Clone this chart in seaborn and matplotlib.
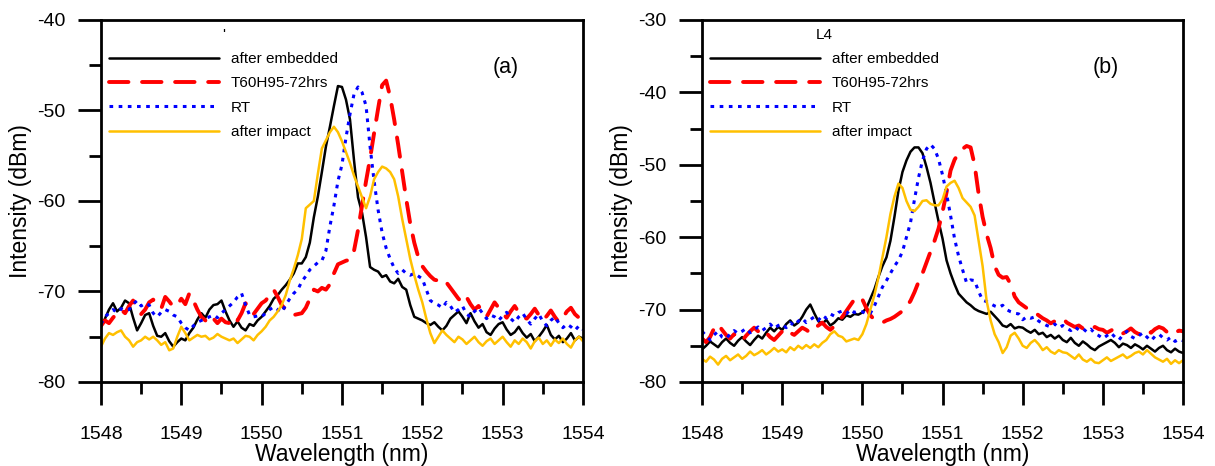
import matplotlib
matplotlib.use("Agg")
import matplotlib.pyplot as plt
import numpy as np
import seaborn as sns

sns.set_style("ticks", {"axes.edgecolor": "black", "xtick.color": "black",
                        "ytick.color": "black", "text.color": "black",
                        "axes.labelcolor": "black"})
plt.rcParams['font.family'] = ['Liberation Sans', 'DejaVu Sans']
plt.rcParams['axes.unicode_minus'] = False

# shared wavelength grid (nm), 0.05 nm step
wavelength = np.round(np.arange(1548.0, 1554.001, 0.05), 2)

labels = ["after embedded", "T60H95-72hrs", "RT", "after impact"]

# ---- panel (a) ----
emb_a = [-73.9, -73.0, -72.0, -71.3, -72.2, -71.8, -71.0, -71.3, -72.9, -74.3, -73.5, -72.6, -72.4, -73.8, -74.9, -75.0, -74.6, -75.5, -76.1, -75.6,
         -75.2, -75.4, -74.6, -74.0, -73.1, -72.4, -72.9, -72.0, -71.5, -71.4, -71.0, -72.2, -73.2, -73.9, -73.3, -74.0, -74.3, -73.6, -73.8, -73.2,
         -72.8, -72.2, -71.6, -70.8, -70.4, -69.8, -69.3, -68.7, -68.0, -66.9, -66.9, -66.2, -64.6, -61.8, -59.5, -56.8, -54.0, -51.8, -49.5, -47.3,
         -47.4, -48.8, -51.0, -55.5, -59.6, -61.3, -64.0, -67.3, -67.6, -67.8, -68.4, -68.2, -68.9, -69.1, -68.6, -69.5, -69.8, -71.5, -72.8, -73.0,
         -73.2, -73.5, -73.7, -73.4, -73.9, -74.3, -73.8, -73.0, -72.6, -72.2, -72.8, -73.5, -72.4, -73.3, -74.0, -73.6, -74.5, -74.8, -74.1, -73.6,
         -73.4, -74.2, -74.8, -74.5, -73.9, -74.6, -75.1, -74.7, -75.5, -75.0, -74.4, -73.7, -74.8, -75.3, -74.9, -75.6, -75.2, -74.6, -75.4, -75.0,
         -75.2]
t60_a = [-73.8, -73.2, -73.5, -72.9, -72.4, -72.0, -72.4, -71.6, -71.0, -71.8, -72.5, -72.0, -71.2, -70.9, -71.5, -71.9, -70.6, -71.1, -71.7, -71.5,
         -70.8, -71.4, -70.2, -71.0, -72.0, -72.8, -73.2, -72.6, -73.0, -73.5, -73.0, -73.4, -73.5, -72.8, -73.2, -72.4, -71.3, -71.8, -72.5, -71.9,
         -71.3, -71.0, -70.4, -69.8, -70.6, -71.5, -72.0, -72.4, -72.6, -72.5, -72.4, -71.8, -70.8, -69.8, -70.0, -69.6, -69.8, -69.2, -68.0, -67.0,
         -66.8, -66.6, -66.5, -65.5, -63.2, -60.5, -57.8, -55.3, -52.5, -49.8, -47.2, -46.7, -48.5, -51.0, -53.8, -56.8, -59.8, -62.5, -64.6, -66.2,
         -67.2, -67.8, -68.3, -68.7, -68.8, -68.6, -69.0, -69.6, -70.2, -70.8, -71.2, -70.6, -71.4, -72.0, -71.6, -72.3, -72.8, -72.0, -71.2, -71.8,
         -72.4, -72.9, -72.2, -71.6, -72.3, -72.8, -73.0, -72.5, -71.9, -72.6, -73.2, -72.7, -72.1, -72.8, -73.4, -72.9, -72.2, -71.8, -72.5, -72.9,
         -72.6]
rt_a = [-73.6, -72.8, -72.4, -72.0, -72.3, -71.9, -72.1, -72.0, -71.4, -71.0, -71.6, -71.3, -71.5, -72.4, -72.8, -72.3, -72.0, -72.2, -72.6, -72.8,
        -73.5, -74.0, -74.3, -73.8, -73.4, -73.2, -73.0, -72.8, -72.6, -72.9, -72.4, -72.0, -71.6, -71.2, -70.6, -70.2, -71.5, -72.6, -72.8, -72.7,
        -72.8, -72.4, -72.0, -71.7, -72.0, -72.3, -71.5, -70.8, -70.2, -69.8, -68.9, -68.3, -67.6, -67.2, -66.8, -66.6, -65.5, -62.8, -60.5, -57.8,
        -56.0, -53.0, -50.4, -48.2, -47.4, -48.0, -49.5, -54.0, -57.8, -61.0, -63.5, -65.2, -66.4, -67.4, -68.0, -67.6, -68.0, -68.2, -68.0, -68.3,
        -68.6, -69.8, -71.0, -71.3, -71.5, -71.8, -71.2, -71.6, -72.3, -72.0, -71.6, -72.5, -72.8, -72.2, -71.8, -72.4, -73.0, -72.6, -72.8, -73.2,
        -72.7, -72.3, -73.0, -73.4, -72.8, -72.4, -73.1, -73.6, -73.0, -72.5, -73.3, -73.8, -73.2, -72.8, -73.5, -74.0, -73.6, -73.9, -74.3, -73.8,
        -74.2]
imp_a = [-76.1, -75.2, -74.6, -74.8, -74.5, -74.3, -75.0, -75.4, -76.1, -75.6, -75.4, -75.0, -75.3, -75.0, -75.4, -75.9, -75.6, -76.5, -76.3, -75.0,
         -73.9, -74.6, -75.4, -75.1, -74.8, -75.0, -74.9, -75.3, -75.1, -74.7, -75.0, -75.2, -75.4, -75.2, -75.7, -75.3, -74.9, -75.0, -75.4, -74.8,
         -74.4, -73.9, -73.2, -72.8, -72.2, -71.5, -70.4, -68.8, -67.5, -66.0, -64.2, -60.8, -60.4, -60.0, -57.0, -54.2, -53.3, -52.4, -51.8, -52.4,
         -53.4, -54.6, -55.8, -57.2, -58.4, -59.6, -60.8, -59.5, -57.6, -56.8, -56.2, -56.4, -56.8, -57.6, -59.5, -62.0, -64.2, -66.4, -68.2, -69.8,
         -71.2, -73.0, -74.6, -75.7, -75.0, -74.3, -74.8, -75.2, -75.6, -75.0, -75.3, -75.8, -75.4, -75.0, -75.6, -76.0, -75.5, -75.2, -75.8, -75.4,
         -75.0, -75.6, -76.1, -75.4, -75.8, -75.2, -75.6, -76.3, -75.5, -75.1, -75.8, -75.4, -76.0, -75.3, -75.7, -75.2, -75.8, -76.2, -75.4, -75.0,
         -75.5]

# ---- panel (b) ----
emb_b = [-75.5, -75.0, -74.4, -74.8, -75.2, -74.5, -74.0, -74.6, -75.0, -74.3, -73.8, -74.4, -74.9, -74.2, -73.6, -74.0, -73.2, -72.5, -73.0, -72.4,
         -72.8, -72.0, -71.5, -72.2, -71.8, -71.0, -70.0, -69.3, -70.5, -71.6, -72.0, -71.4, -72.2, -71.8, -71.2, -71.4, -70.8, -71.0, -70.6, -70.7,
         -70.4, -69.8, -68.5, -67.2, -65.5, -64.0, -62.8, -60.5, -57.2, -53.6, -51.0, -49.4, -48.2, -47.6, -47.6, -48.4, -50.3, -52.5, -55.2, -57.8,
         -60.2, -63.2, -65.0, -66.5, -67.8, -68.4, -69.0, -69.4, -69.9, -70.2, -70.4, -70.6, -70.3, -70.9, -71.5, -72.2, -72.4, -72.0, -72.6, -72.4,
         -72.5, -72.9, -73.2, -72.8, -73.4, -73.2, -73.8, -73.5, -74.0, -73.6, -74.2, -74.5, -73.9, -74.6, -75.0, -74.4, -74.8, -75.3, -75.6, -75.1,
         -74.8, -74.5, -74.2, -74.6, -75.2, -74.7, -74.9, -75.3, -74.8, -75.1, -75.5, -75.0, -75.4, -75.8, -75.3, -75.0, -75.6, -75.9, -75.4, -75.8,
         -76.0]
t60_b = [-74.0, -74.5, -73.8, -72.6, -72.0, -72.8, -73.5, -74.0, -73.4, -73.8, -74.3, -73.6, -73.0, -72.5, -73.0, -73.6, -73.2, -73.8, -74.2, -73.6,
         -73.0, -72.6, -73.2, -73.5, -73.0, -72.5, -72.8, -73.2, -72.6, -72.2, -71.8, -72.4, -72.8, -72.3, -71.6, -71.0, -70.2, -69.4, -68.6, -68.2,
         -68.6, -69.8, -70.8, -71.4, -71.6, -71.8, -71.5, -71.3, -71.0, -70.6, -70.2, -69.6, -68.8, -67.6, -66.2, -65.0, -63.5, -62.0, -60.5, -58.8,
         -56.5, -53.8, -50.8, -49.3, -48.4, -47.8, -47.4, -47.6, -50.0, -54.0, -57.2, -59.6, -61.5, -64.0, -65.2, -65.6, -65.5, -66.5, -68.2, -69.0,
         -69.4, -69.8, -70.0, -70.4, -70.8, -71.2, -71.5, -71.9, -71.6, -71.4, -71.2, -71.8, -72.1, -72.4, -72.2, -72.6, -72.5, -72.8, -72.4, -72.7,
         -72.8, -73.2, -72.9, -72.6, -72.8, -73.3, -73.0, -72.6, -73.1, -73.4, -72.9, -72.8, -73.2, -72.7, -72.4, -72.6, -73.1, -73.5, -73.2, -72.9,
         -73.0]
rt_b = [-73.0, -73.6, -74.2, -73.5, -73.0, -73.8, -74.0, -73.4, -72.9, -73.3, -73.0, -72.6, -73.2, -72.8, -72.4, -72.9, -72.5, -72.0, -72.6, -72.2,
        -72.0, -72.5, -71.8, -72.2, -71.6, -71.2, -71.8, -71.4, -71.0, -71.5, -70.8, -71.2, -70.6, -70.9, -70.4, -70.2, -70.6, -70.0, -70.4, -70.2,
        -70.3, -70.6, -70.5, -69.5, -68.2, -66.9, -66.0, -65.0, -64.0, -63.2, -62.0, -60.0, -58.0, -54.8, -51.8, -49.4, -47.8, -47.2, -47.8, -49.2,
        -51.4, -54.0, -57.0, -60.2, -62.6, -64.5, -66.3, -65.9, -66.0, -67.5, -68.7, -68.9, -69.2, -69.5, -69.7, -69.4, -70.0, -70.3, -70.5, -70.6,
        -71.4, -71.0, -71.2, -71.0, -71.6, -71.9, -72.2, -72.4, -72.0, -72.5, -72.2, -72.6, -72.9, -72.4, -72.8, -72.6, -73.1, -72.7, -73.3, -73.6,
        -74.0, -73.6, -73.2, -73.8, -74.2, -73.5, -73.0, -73.7, -74.0, -73.6, -73.2, -73.8, -74.3, -73.7, -73.4, -73.9, -74.2, -73.8, -74.4, -74.1,
        -74.3]
imp_b = [-76.8, -77.2, -76.5, -76.9, -77.6, -76.8, -76.4, -77.0, -76.6, -76.2, -76.8, -76.4, -75.8, -76.3, -76.0, -75.6, -76.2, -75.8, -75.3, -75.8,
         -75.5, -75.9, -75.2, -75.6, -75.0, -75.4, -74.9, -75.3, -74.8, -75.2, -74.6, -74.2, -73.4, -73.0, -73.6, -73.8, -74.4, -74.2, -74.0, -74.2,
         -73.4, -72.0, -70.0, -68.0, -65.6, -62.8, -60.0, -56.8, -54.4, -52.6, -53.2, -55.0, -56.2, -56.4, -55.8, -55.0, -54.9, -55.4, -55.6, -55.6,
         -54.8, -53.0, -52.5, -52.2, -53.2, -54.6, -55.2, -55.8, -57.0, -60.5, -64.0, -68.8, -71.5, -73.4, -74.5, -76.0, -75.2, -73.6, -73.2, -74.0,
         -75.0, -75.3, -74.6, -74.2, -74.8, -75.6, -75.2, -75.8, -76.1, -75.6, -75.9, -76.0, -76.4, -76.8, -76.2, -76.9, -77.2, -76.8, -77.3, -77.4,
         -77.0, -76.6, -77.1, -76.8, -76.5, -76.2, -76.7, -76.4, -76.0, -75.8, -76.2, -75.6, -76.1, -76.6, -76.9, -77.2, -76.8, -77.5, -77.0, -77.4,
         -77.0]

colors = ["black", "#FF0000", "#0000FF", "#FFC000"]
widths = [1.8, 2.8, 2.2, 1.8]
dash_patterns = [None, (5, 3.5), (1.2, 1.8), None]

fig = plt.figure(figsize=(12.15, 4.66), dpi=100)
ax_a = fig.add_axes([0.0831, 0.1803, 0.3967, 0.7768])
ax_b = fig.add_axes([0.5778, 0.1803, 0.3959, 0.7768])

panels = [
    (ax_a, [emb_a, t60_a, rt_a, imp_a], (-80, -40), "(a)", "'"),
    (ax_b, [emb_b, t60_b, rt_b, imp_b], (-80, -30), "(b)", "L4"),
]

for ax, series, ylim, tag, title in panels:
    for vals, lab, c, lw, dp in zip(series, labels, colors, widths, dash_patterns):
        sns.lineplot(x=wavelength, y=vals, ax=ax, color=c, linewidth=lw,
                     label=lab, errorbar=None)
        line = ax.lines[-1]
        if dp is not None:
            line.set_dashes(dp)
            if c == "#FF0000":
                line.set_dash_capstyle("round")
    ax.set_xlim(1548, 1554)
    ax.set_ylim(*ylim)
    ax.set_xticks(np.arange(1548, 1555, 1))
    ax.set_xticks(np.arange(1548.5, 1554, 1), minor=True)
    ax.set_yticks(np.arange(ylim[0], ylim[1] + 1, 10))
    ax.set_yticks(np.arange(ylim[0] + 5, ylim[1], 10), minor=True)
    ax.tick_params(axis="both", which="major", direction="out", length=16.5,
                   width=2, labelsize=14, colors="black")
    ax.tick_params(axis="x", which="major", pad=15)
    ax.tick_params(axis="y", which="major", pad=9)
    ax.tick_params(axis="both", which="minor", direction="out", length=8.5,
                   width=2, colors="black")
    for s in ax.spines.values():
        s.set_linewidth(2)
        s.set_visible(True)
        s.set_edgecolor("black")
    ax.set_xlabel("Wavelength (nm)", fontsize=16.5, labelpad=0)
    ax.set_ylabel("Intensity (dBm)", fontsize=16.5, labelpad=4)
    ax.text(0.84, 0.87, tag, transform=ax.transAxes, fontsize=15.5,
            ha="center", va="center")
    ax.legend(loc="upper left", bbox_to_anchor=(0.0, 1.0), frameon=False,
              fontsize=11, handlelength=7.2, labelspacing=0.68,
              handletextpad=0.8, borderaxespad=0.1, title=title,
              title_fontsize=11)

fig.savefig("out.png", dpi=100)
